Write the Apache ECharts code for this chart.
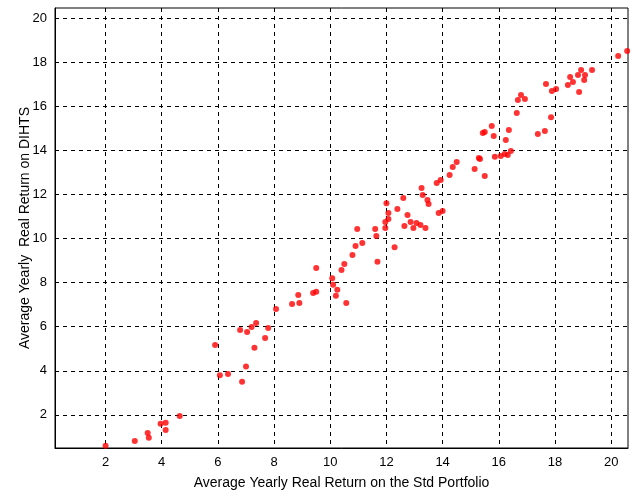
<!DOCTYPE html>
<html><head><meta charset="utf-8">
<script src="https://cdn.jsdelivr.net/npm/echarts@6/dist/echarts.min.js"></script>
<style>html,body{margin:0;background:#fff}#c{width:632px;height:495px}</style>
</head><body><div id="c"></div>
<script>
// std portfolio return (x) vs DIHTS return (y)
const stdReturn = [2.0,3.04,3.5,3.54,3.96,4.14,4.14,4.64,5.9,6.07,6.36,6.79,6.86,7.0,7.04,7.2,7.3,7.36,7.68,7.79,8.07,8.64,8.86,8.9,9.39,9.5,9.5,10.07,10.1,10.2,10.25,10.4,10.5,10.57,10.79,10.9,10.96,11.14,11.6,11.64,11.68,11.96,11.96,12.0,12.07,12.07,12.29,12.39,12.6,12.64,12.75,12.86,12.96,13.07,13.21,13.25,13.29,13.39,13.46,13.5,13.79,13.86,13.93,14.0,14.25,14.36,14.5,15.14,15.29,15.33,15.43,15.5,15.5,15.75,15.82,15.86,16.07,16.21,16.32,16.25,16.36,16.43,16.64,16.68,16.79,16.93,17.39,17.64,17.68,17.86,17.89,18.04,18.46,18.54,18.64,18.82,18.86,18.93,19.04,19.07,19.32,20.25,20.57];
const dihtsReturn = [0.6,0.82,1.18,0.96,1.6,1.32,1.64,1.95,5.17,3.8,3.86,5.85,3.5,4.2,5.76,5.99,5.04,6.17,5.49,5.94,6.8,7.03,7.44,7.08,7.53,8.66,7.58,8.2,7.9,7.4,7.67,8.57,8.84,7.08,9.25,9.66,10.43,9.8,10.43,10.11,8.94,10.48,10.75,11.6,11.16,10.88,9.6,11.34,11.84,10.57,11.07,10.75,10.48,10.7,10.61,12.29,11.97,10.48,11.75,11.56,12.52,11.16,12.65,11.25,12.88,13.24,13.47,13.15,13.65,13.6,14.78,14.83,12.83,15.1,14.65,13.7,13.74,13.83,13.79,14.47,14.92,13.97,15.69,16.28,16.5,16.32,14.74,14.87,17.0,15.5,16.69,16.78,16.96,17.32,17.1,17.41,16.64,17.64,17.19,17.41,17.64,18.27,18.5];
const xTicks = [2,4,6,8,10,12,14,16,18,20];
const yTicks = [2,4,6,8,10,12,14,16,18,20];

const points = stdReturn.map((x, i) => [x, dihtsReturn[i]]);
const grid = { show: true, lineStyle: { color: '#000', type: [4, 4], width: 1 } };
const font = { fontFamily: 'Liberation Sans', fontSize: 13, color: '#000' };

const chart = echarts.init(document.getElementById('c'));
chart.setOption({
  animation: false,
  grid: { left: 55, right: 4, top: 8, bottom: 47, show: true, borderColor: '#000', borderWidth: 1 },
  xAxis: {
    type: 'value', min: 0.2, max: 20.6,
    name: 'Average Yearly Real Return on the Std Portfolio', nameLocation: 'middle', nameGap: 28,
    nameMoveOverlap: false,
    nameTextStyle: { ...font, fontSize: 14 },
    axisLine: { show: true, lineStyle: { color: '#000' } },
    axisTick: { show: false, customValues: xTicks },
    axisLabel: { ...font, customValues: xTicks },
    splitLine: grid
  },
  yAxis: {
    type: 'value', min: 0.5, max: 20.45,
    name: 'Average Yearly  Real Return on DIHTS', nameLocation: 'middle', nameGap: 23,
    nameMoveOverlap: false,
    nameTextStyle: { ...font, fontSize: 14 },
    axisLine: { show: true, lineStyle: { color: '#000' } },
    axisTick: { show: false, customValues: yTicks },
    axisLabel: { ...font, customValues: yTicks },
    splitLine: grid
  },
  series: [{
    type: 'scatter', data: points, symbolSize: 6,
    itemStyle: { color: '#ff0000' }
  }]
});
</script></body></html>
